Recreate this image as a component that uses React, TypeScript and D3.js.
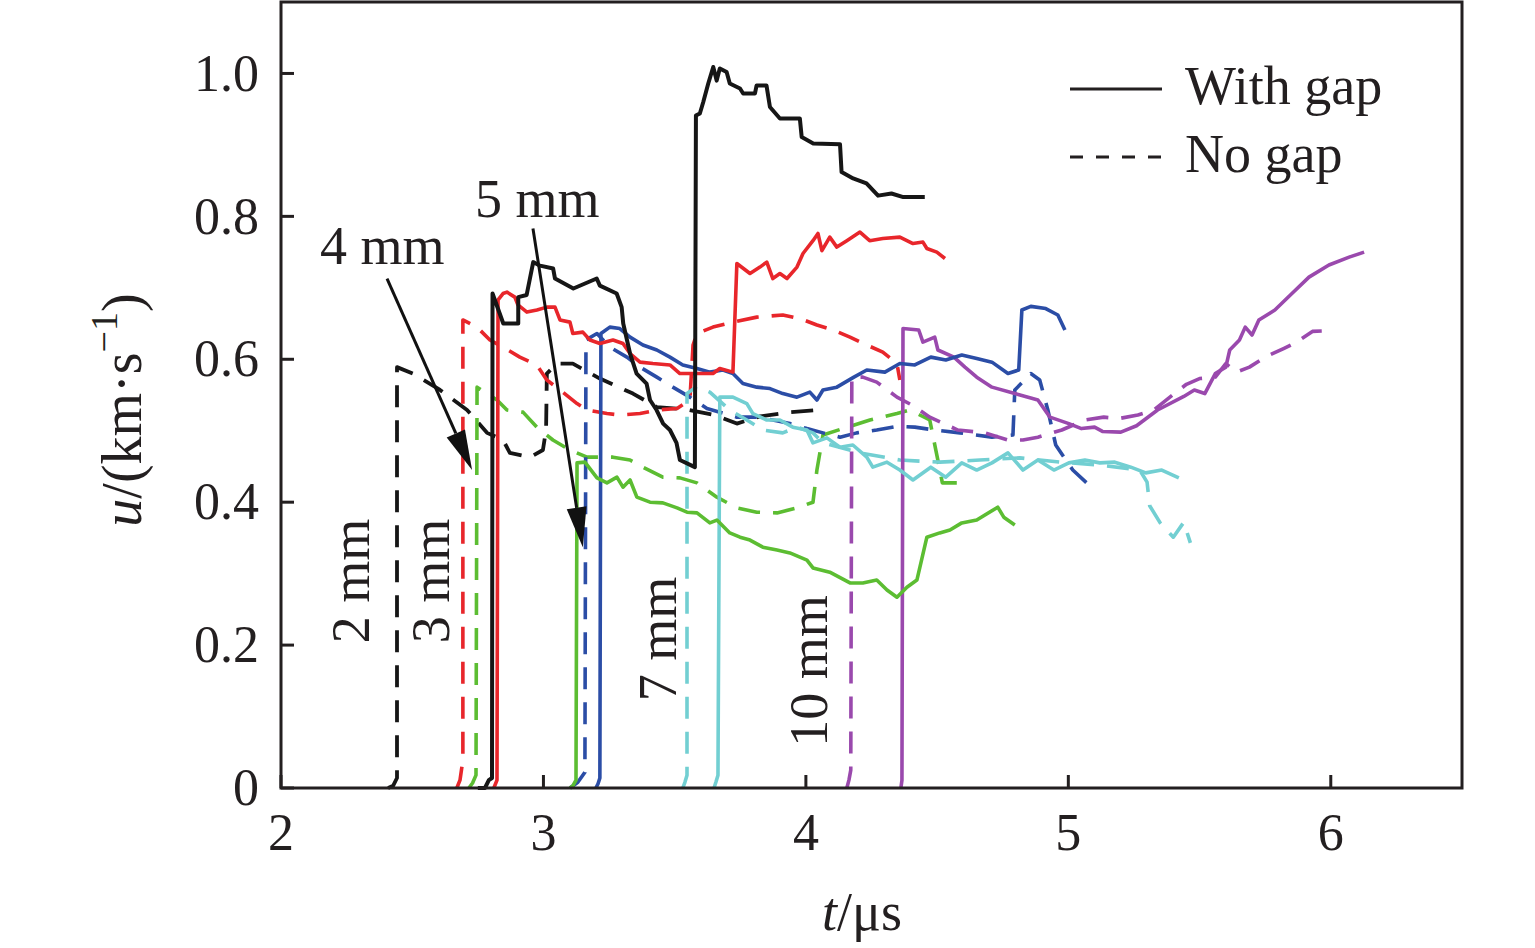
import * as d3 from 'd3';

type Pt = [number, number];

// t (µs), u (km/s)
const gap2mm: Pt[] = [
  [2.75, 0], [2.777, 0.0], [2.792, 0.011], [2.804, 0.014], [2.806, 0.692], [2.847, 0.65], [2.904, 0.65],
  [2.904, 0.687], [2.936, 0.69], [2.961, 0.736], [2.987, 0.731], [3.037, 0.727], [3.044, 0.713],
  [3.114, 0.699], [3.203, 0.713], [3.215, 0.703], [3.279, 0.692], [3.298, 0.673], [3.304, 0.65],
  [3.33, 0.608], [3.355, 0.58], [3.393, 0.566], [3.406, 0.543], [3.431, 0.529], [3.456, 0.51],
  [3.482, 0.501], [3.507, 0.483], [3.52, 0.459], [3.577, 0.449], [3.581, 0.941], [3.596, 0.944],
  [3.609, 0.96], [3.628, 0.986], [3.647, 1.009], [3.66, 0.99], [3.672, 1.007], [3.698, 1.002],
  [3.71, 0.986], [3.749, 0.979], [3.761, 0.972], [3.806, 0.972], [3.812, 0.983], [3.85, 0.983],
  [3.863, 0.953], [3.901, 0.937], [3.977, 0.937], [3.984, 0.911], [4.028, 0.902], [4.13, 0.901],
  [4.136, 0.862], [4.18, 0.853], [4.231, 0.846], [4.275, 0.829], [4.326, 0.832], [4.371, 0.827],
  [4.453, 0.827],
];
const noGap2mm: Pt[] = [
  [2.408, 0], [2.427, 0.003], [2.442, 0.014], [2.442, 0.589], [2.503, 0.58], [2.606, 0.557],
  [2.709, 0.529], [2.785, 0.497], [2.846, 0.487], [2.872, 0.469], [2.949, 0.463], [2.998, 0.473],
  [3.01, 0.501], [3.013, 0.58], [3.051, 0.594], [3.112, 0.594], [3.215, 0.573], [3.341, 0.552],
  [3.432, 0.533], [3.543, 0.53], [3.653, 0.522], [3.737, 0.51], [3.825, 0.52], [3.939, 0.526],
  [4.046, 0.529],
];

const gap3mm: Pt[] = [
  [2.811, 0], [2.823, 0.011], [2.827, 0.683], [2.846, 0.692], [2.861, 0.694], [2.891, 0.687],
  [2.903, 0.676], [2.937, 0.666], [2.975, 0.669], [3.013, 0.673], [3.044, 0.673], [3.063, 0.655],
  [3.101, 0.652], [3.112, 0.636], [3.15, 0.638], [3.177, 0.627], [3.215, 0.622], [3.265, 0.627],
  [3.303, 0.622], [3.33, 0.608], [3.368, 0.596], [3.417, 0.594], [3.482, 0.592], [3.52, 0.58],
  [3.596, 0.58], [3.646, 0.58], [3.672, 0.587], [3.722, 0.582], [3.737, 0.734], [3.787, 0.72],
  [3.825, 0.729], [3.851, 0.736], [3.874, 0.713], [3.901, 0.72], [3.928, 0.713], [3.966, 0.729],
  [3.989, 0.748], [4.027, 0.766], [4.046, 0.776], [4.061, 0.752], [4.091, 0.771], [4.118, 0.757],
  [4.156, 0.766], [4.206, 0.778], [4.243, 0.766], [4.293, 0.769], [4.358, 0.771], [4.408, 0.762],
  [4.446, 0.764], [4.461, 0.755], [4.499, 0.75], [4.53, 0.741],
];
const noGap3mm: Pt[] = [
  [2.67, 0], [2.682, 0.011], [2.693, 0.039], [2.693, 0.655], [2.747, 0.645], [2.796, 0.627],
  [2.846, 0.617], [2.91, 0.603], [2.975, 0.592], [3.013, 0.571], [3.063, 0.557], [3.128, 0.538],
  [3.166, 0.529], [3.242, 0.524], [3.291, 0.522], [3.368, 0.524], [3.432, 0.529], [3.509, 0.531],
  [3.558, 0.543], [3.57, 0.62], [3.585, 0.636], [3.646, 0.645], [3.722, 0.652], [3.813, 0.659],
  [3.912, 0.662], [3.977, 0.657], [4.042, 0.648], [4.103, 0.641], [4.168, 0.631], [4.232, 0.62],
  [4.293, 0.61], [4.347, 0.594], [4.358, 0.571],
];

const gap4mm: Pt[] = [
  [3.101, 0], [3.112, 0.003], [3.124, 0.011], [3.128, 0.455], [3.158, 0.456], [3.204, 0.434],
  [3.242, 0.427], [3.28, 0.435], [3.303, 0.421], [3.33, 0.431], [3.356, 0.407], [3.406, 0.4],
  [3.455, 0.399], [3.509, 0.392], [3.547, 0.386], [3.585, 0.385], [3.634, 0.371], [3.661, 0.375],
  [3.71, 0.357], [3.749, 0.351], [3.787, 0.347], [3.836, 0.337], [3.89, 0.333], [3.939, 0.329],
  [4.004, 0.319], [4.027, 0.308], [4.091, 0.302], [4.168, 0.287], [4.217, 0.287], [4.27, 0.291],
  [4.309, 0.277], [4.347, 0.267], [4.385, 0.281], [4.423, 0.291], [4.461, 0.351], [4.51, 0.357],
  [4.549, 0.361], [4.594, 0.371], [4.651, 0.375], [4.731, 0.393], [4.754, 0.379], [4.796, 0.368],
];
const noGap4mm: Pt[] = [
  [2.716, 0], [2.73, 0.007], [2.743, 0.018], [2.747, 0.561], [2.823, 0.543], [2.861, 0.529],
  [2.922, 0.526], [2.975, 0.505], [3.036, 0.487], [3.101, 0.473], [3.166, 0.463], [3.265, 0.463],
  [3.33, 0.459], [3.379, 0.449], [3.455, 0.435], [3.52, 0.434], [3.585, 0.427], [3.661, 0.407],
  [3.737, 0.392], [3.813, 0.386], [3.89, 0.385], [3.966, 0.392], [4.027, 0.4], [4.042, 0.445],
  [4.065, 0.494], [4.141, 0.503], [4.244, 0.515], [4.347, 0.524], [4.396, 0.529], [4.472, 0.515],
  [4.499, 0.466], [4.52, 0.427], [4.575, 0.427],
];

const gap5mm: Pt[] = [
  [3.2, 0], [3.208, 0.006], [3.215, 0.014], [3.219, 0.636], [3.253, 0.645], [3.291, 0.643],
  [3.33, 0.631], [3.379, 0.62], [3.432, 0.613], [3.482, 0.603], [3.531, 0.592], [3.585, 0.587],
  [3.634, 0.582], [3.684, 0.585], [3.722, 0.58], [3.76, 0.566], [3.813, 0.561], [3.863, 0.559],
  [3.912, 0.552], [3.966, 0.547], [4.015, 0.554], [4.042, 0.543], [4.065, 0.557], [4.118, 0.561],
  [4.183, 0.575], [4.232, 0.585], [4.301, 0.582], [4.358, 0.594], [4.415, 0.592], [4.476, 0.603],
  [4.533, 0.599], [4.594, 0.606], [4.651, 0.601], [4.709, 0.596], [4.77, 0.58], [4.811, 0.585],
  [4.823, 0.669], [4.857, 0.674], [4.914, 0.671], [4.96, 0.662], [4.987, 0.641],
];
const noGap5mm: Pt[] = [
  [3.101, 0], [3.131, 0.008], [3.158, 0.022], [3.162, 0.627], [3.204, 0.636], [3.253, 0.617],
  [3.318, 0.603], [3.368, 0.589], [3.432, 0.575], [3.493, 0.561], [3.558, 0.547], [3.623, 0.531],
  [3.672, 0.526], [3.737, 0.519], [3.813, 0.519], [3.874, 0.515], [3.939, 0.51], [4.004, 0.503],
  [4.065, 0.497], [4.13, 0.491], [4.194, 0.497], [4.27, 0.501], [4.347, 0.506], [4.415, 0.505],
  [4.491, 0.501], [4.587, 0.497], [4.709, 0.491], [4.789, 0.494], [4.796, 0.557], [4.857, 0.58],
  [4.891, 0.571], [4.922, 0.529], [4.952, 0.48], [5.017, 0.445], [5.07, 0.427],
];

const gap7mm: Pt[] = [
  [3.65, 0], [3.657, 0.008], [3.665, 0.018], [3.672, 0.547], [3.722, 0.547], [3.775, 0.538],
  [3.798, 0.524], [3.851, 0.515], [3.901, 0.515], [3.95, 0.505], [4.004, 0.501], [4.027, 0.483],
  [4.08, 0.49], [4.13, 0.477], [4.179, 0.48], [4.232, 0.463], [4.255, 0.449], [4.309, 0.456],
  [4.358, 0.445], [4.408, 0.431], [4.476, 0.449], [4.533, 0.435], [4.594, 0.455], [4.651, 0.445],
  [4.709, 0.455], [4.77, 0.469], [4.827, 0.445], [4.884, 0.459], [4.945, 0.445], [5.002, 0.455],
  [5.063, 0.459], [5.12, 0.455], [5.177, 0.456], [5.238, 0.449], [5.295, 0.441], [5.356, 0.445],
  [5.421, 0.434],
];
const noGap7mm: Pt[] = [
  [3.531, 0], [3.539, 0.008], [3.547, 0.018], [3.547, 0.552], [3.585, 0.562], [3.634, 0.554],
  [3.71, 0.529], [3.775, 0.515], [3.836, 0.501], [3.912, 0.497], [3.966, 0.505], [4.027, 0.497],
  [4.065, 0.483], [4.206, 0.469], [4.358, 0.459], [4.51, 0.456], [4.663, 0.459], [4.815, 0.462],
  [4.968, 0.456], [5.12, 0.452], [5.272, 0.445], [5.3, 0.428], [5.31, 0.395], [5.35, 0.371],
  [5.4, 0.351], [5.44, 0.372], [5.465, 0.343],
];

const gap10mm: Pt[] = [
  [4.362, 0], [4.366, 0.011], [4.37, 0.643], [4.43, 0.641], [4.446, 0.624], [4.491, 0.631],
  [4.503, 0.613], [4.564, 0.603], [4.606, 0.589], [4.651, 0.575], [4.709, 0.561], [4.796, 0.552],
  [4.884, 0.543], [4.93, 0.519], [5.002, 0.51], [5.05, 0.503], [5.1, 0.505], [5.13, 0.499],
  [5.2, 0.498], [5.26, 0.507], [5.34, 0.529], [5.44, 0.548], [5.48, 0.557], [5.52, 0.552],
  [5.56, 0.58], [5.6, 0.589], [5.615, 0.613], [5.652, 0.627], [5.674, 0.645], [5.7, 0.634],
  [5.726, 0.655], [5.787, 0.669], [5.852, 0.692], [5.917, 0.715], [5.993, 0.732], [6.07, 0.743],
  [6.127, 0.75],
];
const noGap10mm: Pt[] = [
  [4.156, 0], [4.164, 0.011], [4.171, 0.025], [4.175, 0.575], [4.217, 0.575], [4.27, 0.568],
  [4.347, 0.547], [4.404, 0.536], [4.472, 0.519], [4.579, 0.501], [4.682, 0.497], [4.77, 0.487],
  [4.827, 0.487], [4.884, 0.491], [4.975, 0.501], [5.063, 0.515], [5.135, 0.519], [5.192, 0.517],
  [5.265, 0.522], [5.326, 0.529], [5.38, 0.545], [5.45, 0.565], [5.5, 0.573], [5.56, 0.575],
  [5.6, 0.594], [5.64, 0.582], [5.69, 0.589], [5.75, 0.603], [5.82, 0.615], [5.87, 0.624],
  [5.93, 0.639], [6.0, 0.64],
];

const thicknesses = ['2 mm', '3 mm', '4 mm', '5 mm', '7 mm', '10 mm'];
const colors = ['#161616', '#e8262b', '#5cbd32', '#2b4da6', '#72cfd2', '#9a49ad'];
const withGap = [gap2mm, gap3mm, gap4mm, gap5mm, gap7mm, gap10mm];
const noGap = [noGap2mm, noGap3mm, noGap4mm, noGap5mm, noGap7mm, noGap10mm];

const xTicks = [2, 3, 4, 5, 6];
const yTicks = [0, 0.2, 0.4, 0.6, 0.8, 1.0];
const legendLabels = ['With gap', 'No gap'];

const W = 1535;
const H = 948;
const margin = { top: 2, right: 73, bottom: 160, left: 281 };
const FONT = '"Liberation Serif", "Times New Roman", serif';

function Arrow({ from, to }: { from: [number, number]; to: [number, number] }) {
  const dx = to[0] - from[0];
  const dy = to[1] - from[1];
  const len = Math.hypot(dx, dy);
  const ux = dx / len;
  const uy = dy / len;
  const headL = 40;
  const headW = 10;
  const bx = to[0] - ux * headL;
  const by = to[1] - uy * headL;
  const head = `M${to[0]},${to[1]} L${bx - uy * headW},${by + ux * headW} L${bx + uy * headW},${by - ux * headW} Z`;
  return (
    <g>
      <line x1={from[0]} y1={from[1]} x2={bx} y2={by} stroke="#111" strokeWidth={3} />
      <path d={head} fill="#111" />
    </g>
  );
}

export default function App() {
  const x = d3.scaleLinear().domain([2, 6.5]).range([margin.left, W - margin.right]);
  const y = d3.scaleLinear().domain([0, 1.1]).range([H - margin.bottom, margin.top]);
  const line = d3
    .line<Pt>()
    .x((d) => x(d[0]))
    .y((d) => y(d[1]));

  const x0 = x(2);
  const x1 = x(6.5);
  const y0 = y(0);
  const yTop = y(1.1);

  const solidOrder = [5, 4, 3, 2, 1, 0];

  return (
    <svg
      width={W}
      height={H}
      style={{ position: 'absolute', left: 0, top: 0, background: '#fff' }}
      fontFamily={FONT}
    >
      <rect width={W} height={H} fill="#fff" />

      {noGap.map((s, i) => (
        <path
          key={`ng-${i}`}
          d={line(s) ?? ''}
          fill="none"
          stroke={colors[i]}
          strokeWidth={i === 0 ? 3.8 : 3.6}
          strokeDasharray="22 13"
          strokeLinejoin="round"
        />
      ))}
      {solidOrder.map((i) => (
        <path
          key={`g-${i}`}
          d={line(withGap[i]) ?? ''}
          fill="none"
          stroke={colors[i]}
          strokeWidth={i === 0 ? 4 : 3.6}
          strokeLinejoin="round"
        />
      ))}

      {/* frame */}
      <rect x={x0} y={yTop} width={x1 - x0} height={y0 - yTop} fill="none" stroke="#231f20" strokeWidth={3} />

      {xTicks.map((t) => (
        <g key={`xt-${t}`}>
          <line x1={x(t)} x2={x(t)} y1={y0} y2={y0 - 13} stroke="#231f20" strokeWidth={3} />
          <text x={x(t)} y={y0 + 62} textAnchor="middle" fontSize={52} fill="#231f20">
            {t}
          </text>
        </g>
      ))}
      {yTicks.map((v) => (
        <g key={`yt-${v}`}>
          <line x1={x0} x2={x0 + 13} y1={y(v)} y2={y(v)} stroke="#231f20" strokeWidth={3} />
          <text x={x0 - 22} y={y(v)} dy="0.33em" textAnchor="end" fontSize={52} fill="#231f20">
            {v === 0 ? '0' : v.toFixed(1)}
          </text>
        </g>
      ))}

      {/* axis titles */}
      <text x={862} y={930} textAnchor="middle" fontSize={54} fill="#231f20">
        <tspan fontStyle="italic">t</tspan>/μs
      </text>
      <text
        transform={`translate(141,${410}) rotate(-90)`}
        textAnchor="middle"
        fontSize={56}
        fill="#231f20"
      >
        <tspan fontStyle="italic">u</tspan>/(km·s
        <tspan fontSize={38} dy={-24}>−1</tspan>
        <tspan dy={24}>)</tspan>
      </text>

      {/* legend */}
      <line x1={1070} x2={1162} y1={89} y2={89} stroke="#231f20" strokeWidth={3} />
      <text x={1185} y={104} fontSize={54} fill="#231f20">
        {legendLabels[0]}
      </text>
      <line x1={1070} x2={1162} y1={157} y2={157} stroke="#231f20" strokeWidth={3} strokeDasharray="13 13" />
      <text x={1185} y={172} fontSize={54} fill="#231f20">
        {legendLabels[1]}
      </text>

      {/* annotations */}
      <text x={320} y={264} fontSize={54} fill="#231f20">
        {thicknesses[2]}
      </text>
      <text x={475} y={217} fontSize={54} fill="#231f20">
        {thicknesses[3]}
      </text>
      <Arrow from={[x(2.404), y(0.713)]} to={[x(2.728), y(0.445)]} />
      <Arrow from={[x(2.96), y(0.783)]} to={[x(3.15), y(0.337)]} />

      {[
        { label: thicknesses[0], cx: 350, cy: 581 },
        { label: thicknesses[1], cx: 430, cy: 581 },
        { label: thicknesses[4], cx: 657, cy: 639 },
        { label: thicknesses[5], cx: 808, cy: 671 },
      ].map((a) => (
        <text
          key={a.label}
          transform={`translate(${a.cx},${a.cy}) rotate(-90)`}
          textAnchor="middle"
          dy="0.35em"
          fontSize={54}
          fill="#231f20"
        >
          {a.label}
        </text>
      ))}
    </svg>
  );
}
